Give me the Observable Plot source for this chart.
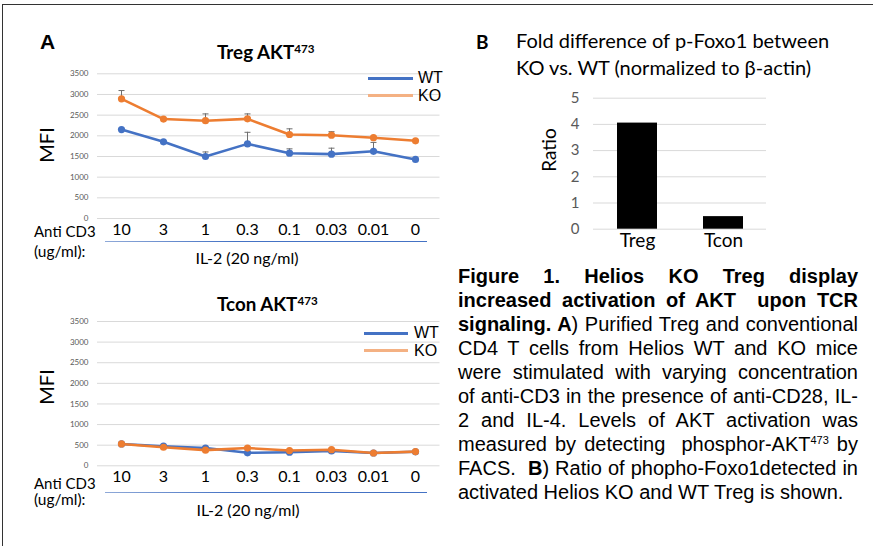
<!DOCTYPE html>
<html><head><meta charset="utf-8">
<script src="https://cdn.jsdelivr.net/npm/d3@7"></script>
<script src="https://cdn.jsdelivr.net/npm/@observablehq/plot@0.6"></script>
<style>
body{margin:0;background:#fff;}
#fig{position:relative;width:873px;height:546px;overflow:hidden;background:#fff;font-family:Lato,sans-serif;color:#000;}
.t{position:absolute;white-space:nowrap;line-height:1;}
#frame{position:absolute;left:2px;top:4px;width:900px;height:600px;border-top:1.5px solid #333;border-left:1.5px solid #333;}
#cap{position:absolute;left:458px;top:264px;width:400px;font-family:"Liberation Sans",Arial,sans-serif;font-size:20px;line-height:24px;color:#000;}
#cap div{text-align:justify;text-align-last:justify;height:24px;}
#cap div.last{text-align:left;text-align-last:left;}
#cap sup{font-size:11px;vertical-align:7px;line-height:0;}
sup.s{font-size:0.62em;vertical-align:0.45em;line-height:0;}
.legline{position:absolute;height:3px;}
</style></head><body><div id="fig"><div id="frame"></div></div>
<script>
// ---- data ----
const doses = ["10", "3", "1", "0.3", "0.1", "0.03", "0.01", "0"];
const groups = ["WT", "KO"];
const tregWT    = [2150, 1855, 1500, 1805, 1580, 1556, 1625, 1428];
const tregWTerr = [0, 0, 110, 280, 105, 145, 215, 0];
const tregKO    = [2895, 2405, 2365, 2410, 2032, 2015, 1955, 1879];
const tregKOerr = [200, 0, 165, 120, 137, 85, 0, 0];
const tconWT    = [530, 475, 430, 315, 330, 360, 310, 340];
const tconKO    = [530, 450, 380, 430, 370, 390, 310, 345];
const mfiTicks  = [0, 500, 1000, 1500, 2000, 2500, 3000, 3500];
const barCats   = ["Treg", "Tcon"];
const ratio     = [4.05, 0.48];
const ratioTicks = [0, 1, 2, 3, 4, 5];

const lineColors = ["#4472C4", "#ED7D31"];
const legendColors = ["#4472C4", "#F4B183"];
const errColor = "#6f6f6f";

const fig = document.getElementById("fig");

function tidy(wt, wtErr, ko, koErr) {
  return doses.flatMap((d, i) => [
    {dose: d, group: "WT", v: wt[i], err: wtErr ? wtErr[i] : 0},
    {dose: d, group: "KO", v: ko[i], err: koErr ? koErr[i] : 0}
  ]);
}

const capSymbol = {draw(ctx) { ctx.moveTo(-3, 0); ctx.lineTo(3, 0); }};

function lineChart(data, top, height, marginTop, marginBottom) {
  const errs = data.filter(d => d.err > 0);
  const svg = Plot.plot({
    width: 445, height, marginLeft: 97, marginRight: 5.5, marginTop, marginBottom,
    x: {type: "point", domain: doses, label: null},
    y: {domain: [0, 3500], label: null},
    color: {domain: groups, range: lineColors},
    style: {position: "absolute", left: "0px", top: top + "px", fontFamily: "Lato", overflow: "visible", background: "transparent"},
    marks: [
      Plot.gridY(mfiTicks, {stroke: "#d9d9d9", strokeOpacity: 1}),
      Plot.axisY({ticks: mfiTicks, tickSize: 0, tickPadding: 9, fontSize: 8, fill: "#595959", tickFormat: d => String(d), label: null}),
      Plot.axisX({tickSize: 0, tickPadding: 5, fontSize: 16, fill: "#000", label: null}),
      Plot.line(data, {x: "dose", y: "v", z: "group", stroke: "group", strokeWidth: 2.6}),
      Plot.ruleX(errs, {x: "dose", y1: "v", y2: d => d.v + d.err, stroke: errColor, strokeWidth: 1}),
      Plot.dot(errs, {x: "dose", y: d => d.v + d.err, symbol: capSymbol, fill: "none", stroke: errColor, strokeWidth: 1}),
      Plot.dot(data, {x: "dose", y: "v", fill: "group", r: 3.6})
    ]
  });
  fig.appendChild(svg);
}

lineChart(tidy(tregWT, tregWTerr, tregKO, tregKOerr), 0, 270, 73.3, 52);
lineChart(tidy(tconWT, null, tconKO, null), 270, 230, 51, 34.7);

// bar chart B
const barData = barCats.map((c, i) => ({cat: c, v: ratio[i]}));
fig.appendChild(Plot.plot({
  width: 433, height: 200, marginLeft: 153, marginRight: 107, marginTop: 37.7, marginBottom: 31.3,
  x: {domain: barCats, paddingInner: 0.538, paddingOuter: 0.269, label: null},
  y: {domain: [0, 5], label: null},
  style: {position: "absolute", left: "440px", top: "60px", fontFamily: "Lato", overflow: "visible", background: "transparent"},
  marks: [
    Plot.gridY(ratioTicks, {stroke: "#d9d9d9", strokeOpacity: 1}),
    Plot.axisY({ticks: ratioTicks, tickSize: 0, tickPadding: 14, fontSize: 15, fill: "#595959", tickFormat: d => String(d), label: null}),
    Plot.axisX({tickSize: 0, tickPadding: 4, fontSize: 19, fill: "#000", label: null}),
    Plot.barY(barData, {x: "cat", y: "v", fill: "#000"})
  ]
}));

// ---- text annotations ----
function txt(html, x, cy, opts = {}) {
  const el = document.createElement("div");
  el.className = "t";
  el.innerHTML = html;
  const fs = opts.size || 16;
  el.style.fontSize = fs + "px";
  if (opts.family) el.style.fontFamily = opts.family;
  if (opts.weight) el.style.fontWeight = opts.weight;
  if (opts.color) el.style.color = opts.color;
  el.style.left = x + "px";
  el.style.top = cy + "px";
  let tr = "translateY(-50%)";
  if (opts.center) tr = "translate(-50%,-50%)";
  if (opts.rotate) tr = "translate(-50%,-50%) rotate(-90deg)";
  el.style.transform = tr;
  fig.appendChild(el);
  return el;
}
function legLine(x1, x2, cy, color) {
  const el = document.createElement("div");
  el.className = "legline";
  el.style.left = x1 + "px"; el.style.width = (x2 - x1) + "px";
  el.style.top = (cy - 1.5) + "px"; el.style.background = color;
  fig.appendChild(el);
}
function underline(y) {
  const el = document.createElement("div");
  el.style.cssText = `position:absolute;left:105px;width:322px;top:${y}px;height:1.5px;background:linear-gradient(90deg,#8fa9d8,#4472C4 40%,#4472C4);`;
  fig.appendChild(el);
}

const arial = '"Liberation Sans", Arial, sans-serif';
txt("A", 40, 41, {size: 21, weight: 700, family: arial});
txt("B", 476, 41, {size: 19, weight: 700});
txt("Fold difference of p-Foxo1 between", 516, 40, {size: 20});
txt("KO vs. WT (normalized to &beta;-actin)", 516, 67, {size: 20});
txt("Ratio", 548, 150, {size: 19, rotate: true});

// Treg panel
txt('Treg AKT<sup class="s">473</sup>', 217, 52, {size: 18.8, weight: 700});
txt("MFI", 46, 145, {size: 20, rotate: true});
txt("Anti CD3", 34, 231, {size: 15});
txt("(ug/ml):", 34, 252, {size: 15.5});
underline(240.5);
txt("IL-2 (20 ng/ml)", 247, 258, {size: 16, center: true});
legLine(368, 413, 78.3, legendColors[0]);
legLine(368, 413, 95.5, legendColors[1]);
txt("WT", 418, 78, {size: 16, family: arial});
txt("KO", 418, 96, {size: 16, family: arial});

// Tcon panel
txt('Tcon AKT<sup class="s">473</sup>', 217, 304, {size: 18.8, weight: 700});
txt("MFI", 46, 387, {size: 20, rotate: true});
txt("Anti CD3", 34, 483, {size: 15});
txt("(ug/ml):", 34, 500, {size: 15.5});
underline(491.5);
txt("IL-2 (20 ng/ml)", 248, 510, {size: 16, center: true});
legLine(364, 408, 333.3, legendColors[0]);
legLine(364, 408, 350.3, legendColors[1]);
txt("WT", 414, 333, {size: 16, family: arial});
txt("KO", 414, 351, {size: 16, family: arial});

// caption
const capLines = [
  "<b>Figure 1. Helios KO Treg display</b>",
  "<b>increased activation of AKT&nbsp; upon TCR</b>",
  "<b>signaling. A</b>) Purified Treg and conventional",
  "CD4 T cells from Helios WT and KO mice",
  "were stimulated with varying concentration",
  "of anti-CD3 in the presence of anti-CD28, IL-",
  "2 and IL-4. Levels of AKT activation was",
  "measured by detecting&nbsp; phosphor-AKT<sup>473</sup> by",
  "FACS.&nbsp; <b>B</b>) Ratio of phopho-Foxo1detected in",
  "activated Helios KO and WT Treg is shown."
];
const cap = document.createElement("div");
cap.id = "cap";
cap.innerHTML = capLines.map((l, i) => `<div${i === capLines.length - 1 ? ' class="last"' : ''}>${l}</div>`).join("");
fig.appendChild(cap);
</script>
</body></html>
